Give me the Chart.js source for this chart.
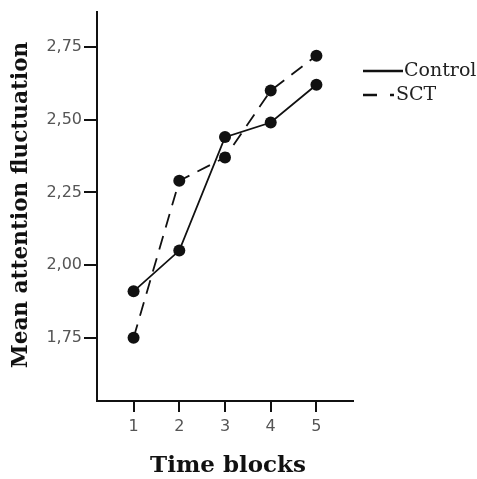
<!DOCTYPE html>
<html>
<head>
<meta charset="utf-8">
<script src="https://cdn.jsdelivr.net/npm/chart.js@4/dist/chart.umd.min.js"></script>
<style>
  html, body { margin: 0; padding: 0; background: #fff; }
  #wrap { width: 477px; height: 479px; position: relative; }
</style>
</head>
<body>
<div id="wrap"><canvas id="chart"></canvas></div>
<script>
// values
const blocks = [1, 2, 3, 4, 5];
const controlMeans = [1.91, 2.05, 2.44, 2.49, 2.62];
const sctMeans = [1.75, 2.29, 2.37, 2.60, 2.72];
const yTicks = [1.75, 2.00, 2.25, 2.50, 2.75];
const seriesNames = ["Control", "SCT"];
const xTitle = "Time blocks";
const yTitle = "Mean attention fluctuation";

const toPoints = (vals) => vals.map((v, i) => ({ x: blocks[i], y: v }));

// axis titles + the little legend on the right
const decorations = {
    id: "decorations",
    afterDraw(chart) {
        const ctx = chart.ctx;
        const area = chart.chartArea;
        ctx.save();
        ctx.fillStyle = "#111";
        ctx.textAlign = "center";
        ctx.textBaseline = "middle";
        ctx.font = "bold 23px 'DejaVu Serif'";
        ctx.fillText(xTitle, (area.left + area.right) / 2 + 3, 466);

        ctx.font = "bold 21.6px 'DejaVu Serif'";
        ctx.translate(21, 205);
        ctx.rotate(-Math.PI / 2);
        ctx.fillText(yTitle, 0, 0);
        ctx.restore();

        // legend
        ctx.save();
        ctx.font = "19px 'DejaVu Serif'";
        ctx.fillStyle = "#222";
        ctx.textBaseline = "middle";
        ctx.textAlign = "left";
        chart.data.datasets.forEach((ds, i) => {
            const y = 71 + i * 24;
            ctx.strokeStyle = "#111";
            ctx.lineWidth = 2.5;
            ctx.beginPath();
            if (ds.borderDash && ds.borderDash.length) {
                ctx.moveTo(363, y); ctx.lineTo(377, y);
                ctx.moveTo(390, y); ctx.lineTo(394, y);
            } else {
                ctx.moveTo(363, y); ctx.lineTo(403, y);
            }
            ctx.stroke();
            ctx.fillText(ds.label, i === 0 ? 404 : 396, y);
        });
        ctx.restore();
    },
};

new Chart(document.getElementById("chart"), {
    type: "line",
    data: {
        datasets: [
            {
                label: seriesNames[0],
                data: toPoints(controlMeans),
                borderColor: "#111",
                backgroundColor: "#111",
                borderWidth: 1.8,
                pointRadius: 6,
                pointBackgroundColor: "#111",
                pointBorderWidth: 0,
                tension: 0,
            },
            {
                label: seriesNames[1],
                data: toPoints(sctMeans),
                borderColor: "#111",
                backgroundColor: "#111",
                borderWidth: 1.8,
                borderDash: [14, 9],
                pointRadius: 6,
                pointBackgroundColor: "#111",
                pointBorderWidth: 0,
                tension: 0,
            },
        ],
    },
    options: {
        responsive: true,
        maintainAspectRatio: false,
        animation: false,
        layout: { padding: { top: 12, right: 124, left: 0, bottom: 0 } },
        plugins: { legend: { display: false }, tooltip: { enabled: false } },
        scales: {
            x: {
                type: "linear",
                min: 0.2,
                max: 5.8,
                afterBuildTicks: (s) => { s.ticks = blocks.map(v => ({ value: v })); },
                afterFit: (s) => { s.height = 78; },
                border: { display: true, color: "#111", width: 2 },
                grid: { drawOnChartArea: false, drawTicks: true, tickLength: 11, color: "#111", lineWidth: 2 },
                ticks: {
                    padding: 5,
                    color: "#555",
                    font: { family: "'DejaVu Sans'", size: 16 },
                    callback: (v) => String(v),
                },
            },
            y: {
                type: "linear",
                min: 1.533,
                max: 2.87,
                afterBuildTicks: (s) => { s.ticks = yTicks.map(v => ({ value: v })); },
                afterFit: (s) => { s.width = 97; },
                border: { display: true, color: "#111", width: 2 },
                grid: { drawOnChartArea: false, drawTicks: true, tickLength: 13, color: "#111", lineWidth: 2 },
                ticks: {
                    padding: 2,
                    color: "#555",
                    font: { family: "'DejaVu Sans'", size: 16 },
                    callback: (v) => v.toFixed(2).replace(".", ","),
                },
            },
        },
    },
    plugins: [decorations],
});
</script>
</body>
</html>
